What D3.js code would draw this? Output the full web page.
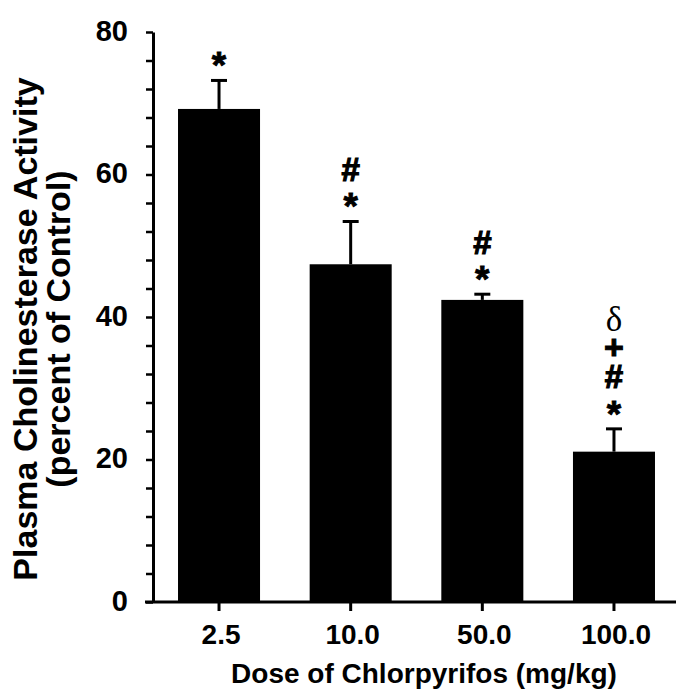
<!DOCTYPE html>
<html>
<head>
<meta charset="utf-8">
<script src="https://cdn.jsdelivr.net/npm/d3@7"></script>
<style>
  body { margin: 0; background: #fff; }
  svg { display: block; font-family: "Liberation Sans", Arial, sans-serif; }
</style>
</head>
<body>
<svg id="chart" width="678" height="690"></svg>
<script>
// data
const doses = ["2.5", "10.0", "50.0", "100.0"];
const activity = [69.2, 47.4, 42.4, 21.1];   // percent of control
const sem = [4.0, 6.0, 0.8, 3.2];
// significance marks, listed bottom to top
const marks = [["*"], ["*", "#"], ["*", "#"], ["*", "#", "+", "δ"]];
const yTicks = d3.range(0, 81, 4);
const yLabels = [0, 20, 40, 60, 80];

const svg = d3.select("#chart");

const x = d3.scaleBand().domain(doses).range([153, 680])
  .paddingInner(0.377).paddingOuter(0.19);
const y = d3.scaleLinear().domain([0, 80]).range([602, 32]);

// bars
svg.append("g").selectAll("rect")
  .data(doses)
  .join("rect")
    .attr("x", d => x(d))
    .attr("y", (d, i) => y(activity[i]))
    .attr("width", x.bandwidth())
    .attr("height", (d, i) => y(0) - y(activity[i]))
    .attr("fill", "#000");

// error bars (upper half only)
const err = svg.append("g").attr("stroke", "#000").attr("stroke-width", 3);
doses.forEach((d, i) => {
  const cx = x(d) + x.bandwidth() / 2;
  const top = y(activity[i] + sem[i]);
  err.append("line").attr("x1", cx).attr("x2", cx)
    .attr("y1", y(activity[i])).attr("y2", top);
  err.append("line").attr("x1", cx - 8).attr("x2", cx + 8)
    .attr("y1", top).attr("y2", top);
});

// significance symbols stacked above error bars, one text per bar
// shift = how far the glyph's visual centre sits above the baseline (em)
const glyph = {
  "*": { font: "Liberation Sans", weight: "bold", size: 37, shift: 0.56, stroke: 0.8 },
  "#": { font: "Liberation Sans", weight: "bold", size: 33, shift: 0.35, stroke: 1.2 },
  "+": { font: "Liberation Sans", weight: "bold", size: 34, shift: 0.34, stroke: 1 },
  "δ": { font: "Liberation Serif", weight: "normal", size: 35, shift: 0.35, stroke: 0 }
};
const sym = svg.append("g").attr("text-anchor", "middle").attr("fill", "#000");
doses.forEach((d, i) => {
  const cx = x(d) + x.bandwidth() / 2;
  const top = y(activity[i] + sem[i]);
  const t = sym.append("text");
  marks[i].forEach((m, k) => {
    const g = glyph[m];
    const centre = top - 23 - k * 29;
    t.append("tspan")
      .attr("x", cx)
      .attr("y", centre + g.shift * g.size)
      .attr("font-family", g.font)
      .attr("font-weight", g.weight)
      .attr("font-size", g.size)
      .attr("stroke", g.stroke ? "#000" : "none")
      .attr("stroke-width", g.stroke)
      .text(m);
  });
});

// y axis
const yAxis = svg.append("g")
  .attr("transform", "translate(153,0)")
  .call(d3.axisLeft(y).tickValues(yTicks).tickSize(7).tickSizeOuter(0)
    .tickPadding(18)
    .tickFormat(d => yLabels.includes(d) ? d : ""));
yAxis.select(".domain").attr("stroke-width", 3);
yAxis.selectAll(".tick line").attr("stroke-width", 2.5);
yAxis.selectAll(".tick text")
  .attr("font-family", "Liberation Sans, Arial, sans-serif")
  .attr("font-weight", "bold")
  .attr("font-size", 29)
  .attr("dy", 8)
  .attr("fill", "#000");

// x axis
const xAxis = svg.append("g")
  .attr("transform", "translate(0,602)")
  .call(d3.axisBottom(x).tickSize(9).tickSizeOuter(0));
xAxis.select(".domain").remove();
xAxis.append("line")
  .attr("x1", 145).attr("x2", 676)
  .attr("stroke", "#000").attr("stroke-width", 3);
xAxis.selectAll(".tick line").attr("stroke-width", 3);
xAxis.selectAll(".tick text")
  .attr("font-family", "Liberation Sans, Arial, sans-serif")
  .attr("font-weight", "bold")
  .attr("font-size", 28)
  .attr("y", 42).attr("dy", 0).attr("dx", 2)
  .attr("fill", "#000");

// axis titles
svg.append("text")
  .attr("x", 424).attr("y", 683)
  .attr("text-anchor", "middle")
  .attr("font-weight", "bold").attr("font-size", 28)
  .text("Dose of Chlorpyrifos (mg/kg)");

const yTitle = svg.append("text")
  .attr("transform", "translate(37,329) rotate(-90)")
  .attr("text-anchor", "middle")
  .attr("font-weight", "bold").attr("font-size", 34);
yTitle.append("tspan").attr("x", 0).attr("y", 0)
  .text("Plasma Cholinesterase Activity");
yTitle.append("tspan").attr("x", 0).attr("y", 33)
  .text("(percent of Control)");
</script>
</body>
</html>
